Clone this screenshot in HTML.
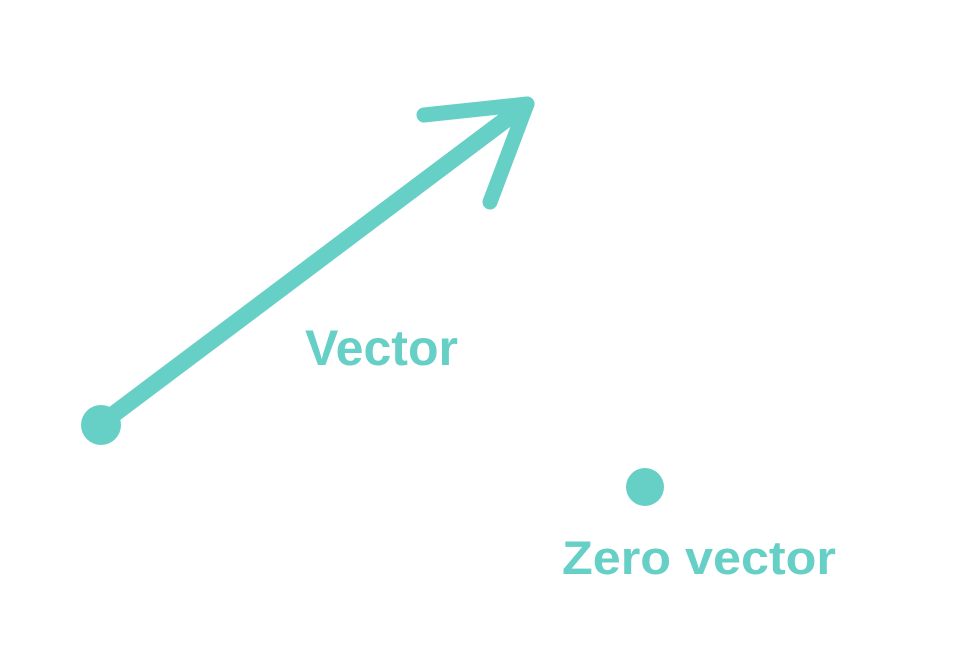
<!DOCTYPE html>
<html>
<head>
<meta charset="utf-8">
<style>
html,body{margin:0;padding:0;background:#fff;}
svg{display:block;}
text{font-family:"Liberation Sans",sans-serif;font-weight:bold;fill:#66cfc6;}
</style>
</head>
<body>
<svg width="980" height="672" viewBox="0 0 980 672">
  <g stroke="#66cfc6" stroke-linecap="round" stroke-linejoin="round" fill="none">
    <line x1="102" y1="423" x2="524" y2="106" stroke-width="17"/>
    <line x1="424" y1="115" x2="527" y2="104" stroke-width="15"/>
    <line x1="490" y1="202" x2="527" y2="104" stroke-width="15"/>
  </g>
  <circle cx="101" cy="425" r="20" fill="#66cfc6"/>
  <text x="305" y="365" font-size="50" textLength="153" lengthAdjust="spacingAndGlyphs">Vector</text>
  <circle cx="645" cy="487" r="19" fill="#66cfc6"/>
  <text x="562" y="574" font-size="47" textLength="274" lengthAdjust="spacingAndGlyphs">Zero vector</text>
</svg>
</body>
</html>
